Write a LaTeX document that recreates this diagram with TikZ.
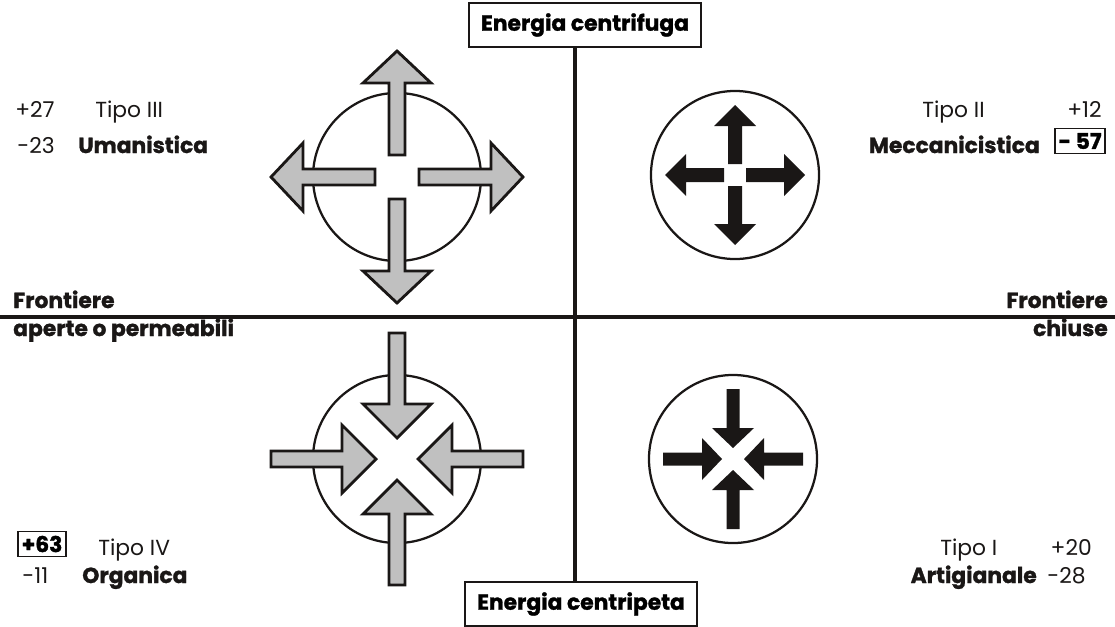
\documentclass[tikz,border=0pt]{standalone}
\usepackage{fontspec}
\setmainfont{Poppins}[BoldFeatures={FakeBold=1.3}]
\usetikzlibrary{positioning}
\definecolor{ArrGray}{RGB}{192,192,192}
\definecolor{InkBlack}{RGB}{26,23,22}

\begin{document}
\begin{tikzpicture}[x=0.025cm, y=-0.025cm,
          lbl/.style={inner sep=0pt, text=InkBlack, font=\fontsize{15.5}{18}\selectfont},
          bld/.style={inner sep=0pt, text=InkBlack, font=\fontsize{15.5}{18}\selectfont\bfseries},
          ebox/.style={draw=InkBlack, line width=2pt, minimum width=5.8cm,
                       minimum height=1.1cm, inner sep=0pt, font=\fontsize{15.5}{18}\selectfont\bfseries},
          nbox/.style={draw=InkBlack, line width=0.9pt, inner xsep=2.5pt, inner ysep=3pt,
                       font=\fontsize{15.5}{18}\selectfont\bfseries},
          axis/.style={draw=InkBlack, line width=2.2pt},
          ring/.style={circle, draw=InkBlack, line width=1.6pt, minimum size=4.2cm, inner sep=0pt},
          garr/.style={fill=ArrGray, draw=InkBlack, line width=2pt},
          barr/.style={fill=InkBlack}
        ]
        \useasboundingbox (0,0) rectangle (1115,626);

        % axes and the two energy boxes
        \node[ebox] (centrifuga) at (585,25)  {Energia centrifuga};
        \node[ebox] (centripeta) at (581,604) {Energia centripeta};
        \coordinate (axisx) at (575,0);
        \coordinate (hleft)  at (0,317);
        \coordinate (hright) at (1115,317);
        \draw[axis] (centrifuga.south -| axisx) -- (centripeta.north -| axisx);
        \draw[axis] (hleft) -- (hright);

        % the four circles
        \node[ring] (umanc) at (397,177) {};
        \node[ring] (meccc) at (735,175) {};
        \node[ring] (orgc)  at (397,459) {};
        \node[ring] (artc)  at (733,459) {};

        % gray arrows, outward and inward
        \foreach \ang in {0,90,180,270}
          \draw[garr, shift={(umanc.center)}, rotate=\ang]
            (22,-8) -- (94,-8) -- (94,-34) -- (126,0) -- (94,34) -- (94,8) -- (22,8) -- cycle;
        \foreach \ang in {0,90,180,270}
          \draw[garr, shift={(orgc.center)}, rotate=\ang]
            (126,-8) -- (55,-8) -- (55,-34) -- (21,0) -- (55,34) -- (55,8) -- (126,8) -- cycle;

        % black arrows, outward and inward
        \foreach \ang in {0,90,180,270}
          \fill[barr, shift={(meccc.center)}, rotate=\ang]
            (11,-7) -- (49,-7) -- (49,-21) -- (70,0) -- (49,21) -- (49,7) -- (11,7) -- cycle;
        \foreach \ang in {0,90,180,270}
          \fill[barr, shift={(artc.center)}, rotate=\ang]
            (70,-6.5) -- (31,-6.5) -- (31,-21) -- (11,0) -- (31,21) -- (31,6.5) -- (70,6.5) -- cycle;

        % boundary labels
        \node[bld, anchor=base west] (frontl)  at (13,308)   {Frontiere};
        \node[bld, anchor=base west] (aperte)  at (13,336)   {aperte o permeabili};
        \node[bld, anchor=base east] (frontr)  at (1108,308) {Frontiere};
        \node[bld, anchor=base east] (chiuse)  at (1108,336) {chiuse};

        % Tipo III
        \node[lbl, anchor=base west] (p27)  at (15,117)  {+27};
        \node[lbl, anchor=base west] (tipo3) at (95,117) {Tipo III};
        \node[lbl, anchor=base west] (m23)  at (17,153)  {-23};
        \node[bld, anchor=base west] (uman) at (78,153)  {Umanistica};

        % Tipo II
        \node[lbl, anchor=base west] (tipo2) at (922,117) {Tipo II};
        \node[lbl, anchor=base east] (p12)   at (1102,117) {+12};
        \node[nbox] (m57) at (1080,141) {- 57};
        \node[bld, anchor=base east] (mecc)  at (1040,153) {Meccanicistica};

        % Tipo IV
        \node[nbox] (p63) at (42,544) {+63};
        \node[lbl, anchor=base west] (tipo4) at (98,555) {Tipo IV};
        \node[lbl, anchor=base west] (m11)   at (22,583) {-11};
        \node[bld, anchor=base west] (org)   at (82,583) {Organica};

        % Tipo I
        \node[lbl, anchor=base west] (tipo1) at (940,555)  {Tipo I};
        \node[lbl, anchor=base east] (p20)   at (1092,555) {+20};
        \node[bld, anchor=base east] (art)   at (1037,583) {Artigianale};
        \node[lbl, anchor=base west] (m28)   at (1047,583) {-28};
      \end{tikzpicture}
\end{document}
